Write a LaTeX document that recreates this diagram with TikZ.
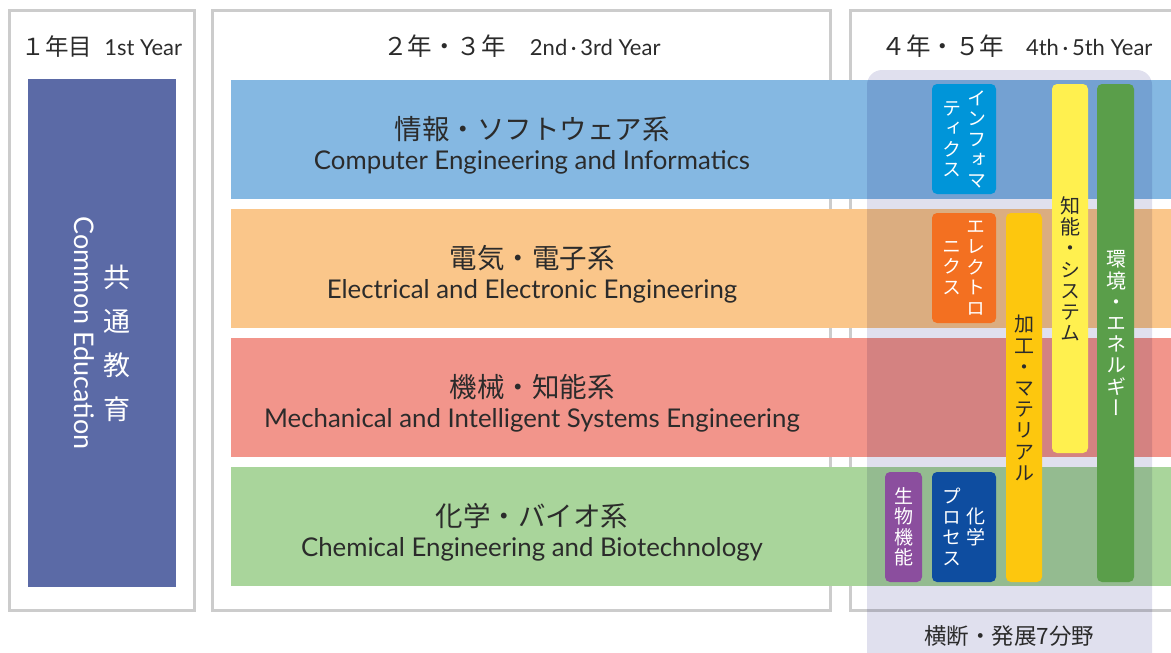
\documentclass[tikz,border=0pt]{standalone}
\usepackage{fontspec}
\setmainfont{Lato}
\newfontfamily\jp{Noto Sans CJK JP}
\newfontfamily\jpv[RawFeature=+vert]{Noto Sans CJK JP}
\usetikzlibrary{positioning}

\definecolor{boxgray}{HTML}{CCCCCC}
\definecolor{txtgray}{HTML}{2B2B2B}
\definecolor{commonblue}{HTML}{5B6AA6}
\definecolor{bandblue}{HTML}{85B8E2}
\definecolor{bandorange}{HTML}{FAC68A}
\definecolor{bandred}{HTML}{F2958B}
\definecolor{bandgreen}{HTML}{A9D59B}
\definecolor{lavender}{HTML}{E0E0EE}
\definecolor{infoblue}{HTML}{0095D9}
\definecolor{elecorange}{HTML}{F37021}
\definecolor{sysyellow}{HTML}{FFF04F}
\definecolor{envgreen}{HTML}{5A9E4A}
\definecolor{matgold}{HTML}{FDC70E}
\definecolor{biopurple}{HTML}{8B4E9E}
\definecolor{chemnavy}{HTML}{0E4DA0}

\newcommand{\yr}[1]{{\rmfamily\fontsize{22}{24}\selectfont #1}}

\tikzset{
  colbox/.style={draw=boxgray, line width=3pt},
  yearlabel/.style={text=txtgray, inner sep=0pt, font=\jp\fontsize{24.5}{26}\selectfont},
  jplabel/.style={text=txtgray, inner sep=0pt, font=\jp\fontsize{27.5}{30}\selectfont},
  enlabel/.style={text=txtgray, inner sep=0pt, font=\fontsize{25.8}{28}\selectfont},
  vbar/.style={rounded corners=5pt},
  vlab/.style={inner sep=0pt, align=center, text=white, font=\jpv\fontsize{19}{20.5}\selectfont},
  vlabw/.style={vlab, font=\jpv\fontsize{20}{21.2}\selectfont},
}

\begin{document}
\begin{tikzpicture}[x=1pt, y=-1pt]
  \useasboundingbox (0,0) rectangle (1171,653);

  % year columns
  \draw[colbox] (9,10) rectangle (194,610);
  \draw[colbox] (212,10) rectangle (830,610);
  \draw[colbox] (850,10) rectangle (1190,610);

  \node[yearlabel, font=\jp\fontsize{23.5}{26}\selectfont] (y1) at (102,47) {１年目\hspace{12pt}\yr{1st Year}};
  \node[yearlabel] (y23) at (522,46) {２年・３年\hspace{24pt}\yr{2nd\,·\,3rd Year}};
  \node[yearlabel] (y45) at (1017,46) {４年・５年\hspace{22pt}\yr{4th\,·\,5th Year}};

  % common education
  \fill[commonblue] (28,79) rectangle (176,587);
  \node[text=white, inner sep=0pt, align=center, font=\jp\fontsize{27}{44}\selectfont] (kyotsu) at (117,343) {共\\通\\教\\育};
  \node[text=white, inner sep=0pt, rotate=-90, font=\fontsize{27}{29}\selectfont] (common) at (84,333) {Common Education};

  % department bands
  \fill[bandblue] (231,80) rectangle (1190,199);
  \fill[bandorange] (231,209) rectangle (1190,328);
  \fill[bandred] (231,338) rectangle (1190,457);
  \fill[bandgreen] (231,467) rectangle (1190,586);

  \node[jplabel] (infoj) at (532,129) {情報・ソフトウェア系};
  \node[enlabel, below=8pt of infoj] (infoe) {Computer Engineering and Informatics};
  \node[jplabel] (elecj) at (532,258) {電気・電子系};
  \node[enlabel, below=8pt of elecj] (elece) {Electrical and Electronic Engineering};
  \node[jplabel] (mechj) at (532,387) {機械・知能系};
  \node[enlabel, below=8pt of mechj] (meche) {Mechanical and Intelligent Systems Engineering};
  \node[jplabel] (chemj) at (532,516) {化学・バイオ系};
  \node[enlabel, below=8pt of chemj] (cheme) {Chemical Engineering and Biotechnology};

  % cross-field overlay
  \fill[lavender, blend mode=multiply, rounded corners=15pt] (867,70) rectangle (1152,668);
  \node[text=txtgray, inner sep=0pt, font=\jp\fontsize{22.5}{24}\selectfont] (seven) at (1009,636) {横断・発展7分野};

  % fields
  \fill[vbar, infoblue] (932,84) rectangle (996,194);
  \node[vlab] (info1) at (977,139) {イ\\ン\\フ\\ォ\\マ};
  \node[vlab] (info2) at (952,139) {テ\\ィ\\ク\\ス};

  \fill[vbar, elecorange] (932,213) rectangle (996,323);
  \node[vlab] (elec1) at (976,268) {エ\\レ\\ク\\ト\\ロ};
  \node[vlab] (elec2) at (952,268) {ニ\\ク\\ス};

  \fill[vbar, chemnavy] (932,472) rectangle (996,582);
  \node[vlab] (chem1) at (976,527) {化\\学};
  \node[vlab] (chem2) at (952,527) {プ\\ロ\\セ\\ス};

  \fill[vbar, biopurple] (885,472) rectangle (922,582);
  \node[vlab] (bio) at (903.5,527) {生\\物\\機\\能};

  \fill[vbar, matgold] (1006,213) rectangle (1042,582);
  \node[vlabw, text=txtgray] (mat) at (1024,398) {加\\工\\・\\マ\\テ\\リ\\ア\\ル};

  \fill[vbar, sysyellow] (1052,84) rectangle (1088,453);
  \node[vlabw, text=txtgray] (sys) at (1070,269) {知\\能\\・\\シ\\ス\\テ\\ム};

  \fill[vbar, envgreen] (1097,84) rectangle (1134,582);
  \node[vlabw] (env) at (1116,333) {環\\境\\・\\エ\\ネ\\ル\\ギ\\ー};
\end{tikzpicture}
\end{document}
